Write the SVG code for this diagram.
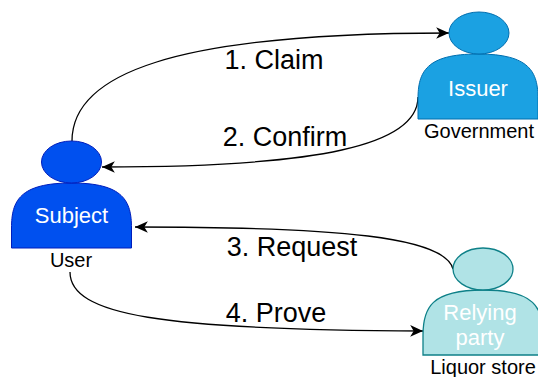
<svg xmlns="http://www.w3.org/2000/svg" width="538" height="377" viewBox="0 0 538 377">
<style>
text{font-family:"Liberation Sans",Arial,sans-serif;text-anchor:middle}
.lab{font-size:20px;fill:#000}
.step{font-size:27px;fill:#000}
.in{font-size:22px;fill:#fff}
.c{fill:none;stroke:#000;stroke-width:1.3;marker-end:url(#a)}
.blue{fill:#0050ef;stroke:#001dbc}
.sky{fill:#1ba1e2;stroke:#006eaf}
.teal{fill:#b0e3e6;stroke:#0e8088;stroke-width:1.3}
</style>
<defs>
<marker id="a" markerUnits="userSpaceOnUse" markerWidth="14" markerHeight="12" refX="11" refY="5" orient="auto" viewBox="0 0 12 10"><path d="M0 0L11 5L0 10L3 5Z" fill="#000"/></marker>
<path id="body" d="M0 65V45C0 18 8 0 60 0S120 18 120 45V65Z"/>
</defs>
<rect width="538" height="377" fill="#fff"/>
<g id="connectors">
<path class="c" d="M72 141C72 75 170 33 449 33"/>
<path class="c" d="M418 97C418 145 320 167 102 167"/>
<path class="c" d="M453 269C445 237 340 227 135 227"/>
<path class="c" d="M70 272C70 315 160 330 423 331"/>
</g>
<g id="subject">
<use href="#body" x="11.500" y="183" class="blue"/>
<ellipse cx="71.500" cy="162" rx="30" ry="21" class="blue"/>
<text x="71.500" y="223" class="in">Subject</text>
<text x="71" y="267" class="lab">User</text>
</g>
<g id="issuer">
<use href="#body" x="418" y="54" class="sky"/>
<ellipse cx="479" cy="33" rx="30" ry="21" class="sky"/>
<text x="478" y="96" class="in">Issuer</text>
<text x="479" y="138" class="lab">Government</text>
</g>
<g id="relying">
<use href="#body" x="423" y="290" class="teal"/>
<ellipse cx="483" cy="269" rx="30" ry="21" class="teal"/>
<text x="480" y="320" class="in">Relying</text>
<text x="480" y="345" class="in">party</text>
<text x="483" y="374" class="lab">Liquor store</text>
</g>
<g id="labels">
<text x="274" y="69" class="step">1. Claim</text>
<text x="285" y="146" class="step">2. Confirm</text>
<text x="292" y="256" class="step">3. Request</text>
<text x="276" y="322" class="step">4. Prove</text>
</g>
</svg>
